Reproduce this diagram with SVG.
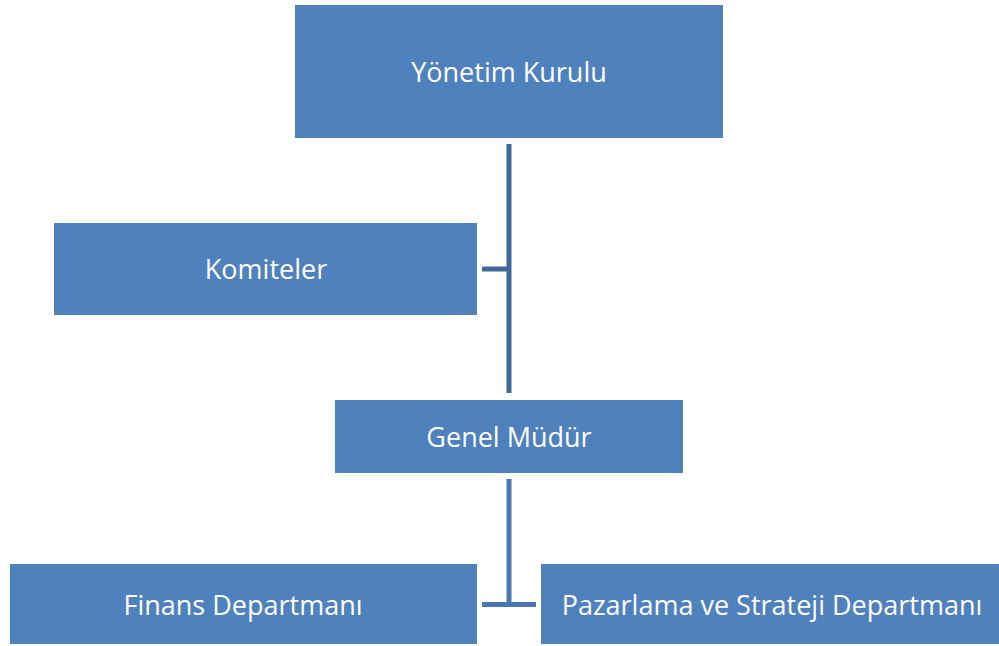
<svg xmlns="http://www.w3.org/2000/svg" width="999" height="646" viewBox="0 0 999 646">
<style>
.box{fill:#4F81BD;}
.lbl{fill:#FFFFFF;font-family:"Open Sans","Noto Sans","Liberation Sans",sans-serif;font-size:27px;text-anchor:middle;dominant-baseline:central;}
.c1{stroke:#41689A;stroke-width:5;fill:none;}
.c2{stroke:#4A76B0;stroke-width:5;fill:none;}
</style>
<rect width="999" height="646" fill="#FFFFFF"/>
<g id="connectors">
<path class="c1" d="M509 144 V393 M482 269 H509"/>
<path class="c2" d="M509 479 V604 M482 604.5 H536"/>
</g>
<g id="yonetim"><rect class="box" x="295" y="5" width="428" height="133"/><text class="lbl" x="509" y="71">Yönetim Kurulu</text></g>
<g id="komiteler"><rect class="box" x="54" y="223" width="423" height="92"/><text class="lbl" x="266" y="268">Komiteler</text></g>
<g id="genel"><rect class="box" x="335" y="400" width="348" height="73"/><text class="lbl" x="509" y="436">Genel Müdür</text></g>
<g id="finans"><rect class="box" x="10" y="564" width="467" height="80"/><text class="lbl" x="243" y="604">Finans Departmanı</text></g>
<g id="pazarlama"><rect class="box" x="541" y="564" width="458" height="80"/><text class="lbl" x="772" y="604">Pazarlama ve Strateji Departmanı</text></g>
</svg>
